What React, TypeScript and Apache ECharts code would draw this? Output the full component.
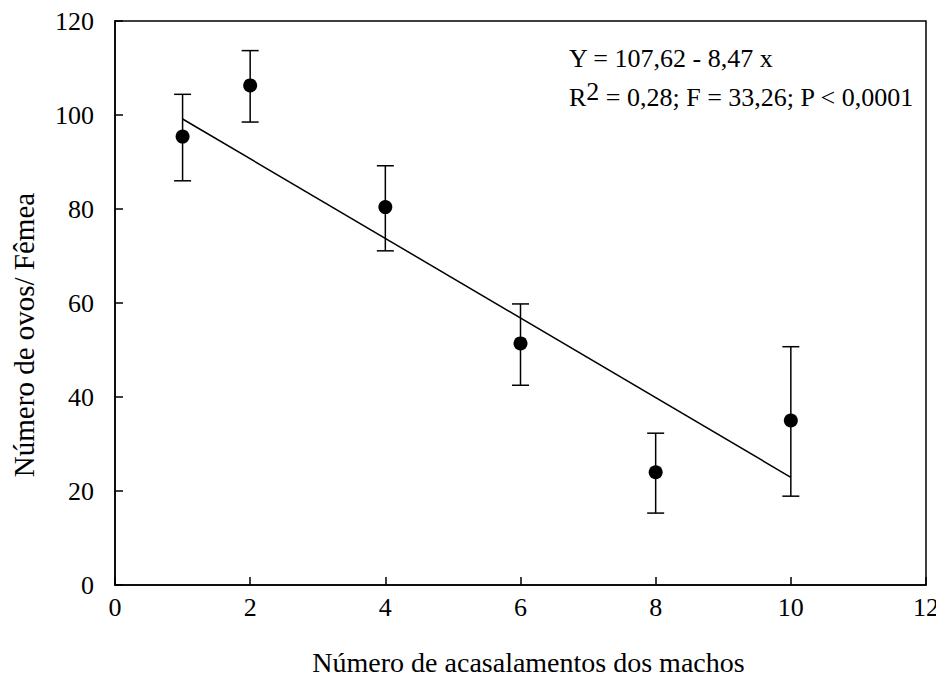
import React, { useEffect, useRef } from "react";
import * as echarts from "echarts";

const xValues = [1, 2, 4, 6, 8, 10];
const meanValues = [95.4, 106.3, 80.4, 51.4, 24.0, 35.0];
const upperValues = [104.4, 113.7, 89.2, 59.8, 32.3, 50.7];
const lowerValues = [86.0, 98.5, 71.1, 42.5, 15.3, 18.9];
const intercept = 107.62;
const slope = -8.47;
const fitRange = [1, 10];
const xTitle = "Número de acasalamentos dos machos";
const yTitle = "Número de ovos/ Fêmea";
const eqLine1 = "Y = 107,62 - 8,47 x";

const FONT = "'Liberation Serif', 'Times New Roman', serif";

export default function App() {
  const ref = useRef<HTMLDivElement>(null);
  useEffect(() => {
    if (!ref.current) return;
    const chart = echarts.init(ref.current, null, { renderer: "svg" });
    const points = xValues.map((x, i) => [x, meanValues[i]]);
    const bars = xValues.map((x, i) => [x, lowerValues[i], upperValues[i]]);
    const fit = fitRange.map((x) => [x, intercept + slope * x]);
    const tickStyle = { color: "#000", fontFamily: FONT, fontSize: 26 };
    const titleStyle = { color: "#000", fontFamily: FONT, fontSize: 28 };
    chart.setOption({
      animation: false,
      backgroundColor: "#fff",
      grid: {
        left: 115,
        top: 21,
        right: 18,
        bottom: 98,
        show: true,
        borderColor: "#000",
        borderWidth: 1.5,
      },
      xAxis: {
        type: "value",
        min: 0,
        max: 12,
        interval: 2,
        name: xTitle,
        nameLocation: "middle",
        nameGap: 63,
        nameTextStyle: { ...titleStyle, padding: [0, 0, 0, 16] },
        axisLine: { show: true, lineStyle: { color: "#000", width: 1.5 } },
        axisTick: { show: true, inside: true, length: 8, lineStyle: { color: "#000", width: 1.5 } },
        axisLabel: { ...tickStyle, margin: 9 },
        splitLine: { show: false },
      },
      yAxis: {
        type: "value",
        min: 0,
        max: 120,
        interval: 20,
        axisLine: { show: true, lineStyle: { color: "#000", width: 1.5 } },
        axisTick: { show: true, inside: true, length: 8, lineStyle: { color: "#000", width: 1.5 } },
        axisLabel: { ...tickStyle, margin: 21 },
        splitLine: { show: false },
      },
      series: [
        {
          type: "line",
          data: fit,
          symbol: "none",
          lineStyle: { color: "#000", width: 1.5 },
          z: 2,
        },
        {
          type: "custom",
          data: bars,
          z: 3,
          renderItem: (params: any, api: any) => {
            const x = api.value(0);
            const lo = api.coord([x, api.value(1)]);
            const hi = api.coord([x, api.value(2)]);
            const hw = 8.5;
            const st = { stroke: "#000", lineWidth: 1.5 };
            return {
              type: "group",
              children: [
                { type: "line", shape: { x1: lo[0], y1: lo[1], x2: hi[0], y2: hi[1] }, style: st },
                { type: "line", shape: { x1: hi[0] - hw, y1: hi[1], x2: hi[0] + hw, y2: hi[1] }, style: st },
                { type: "line", shape: { x1: lo[0] - hw, y1: lo[1], x2: lo[0] + hw, y2: lo[1] }, style: st },
              ],
            };
          },
        },
        {
          type: "scatter",
          data: points,
          symbol: "circle",
          symbolSize: 14,
          itemStyle: { color: "#000", opacity: 1 },
          z: 4,
        },
      ],
      graphic: [
        {
          type: "text",
          x: 24,
          y: 335,
          rotation: Math.PI / 2,
          style: {
            text: yTitle,
            fill: "#000",
            font: `29px ${FONT}`,
            align: "center",
            verticalAlign: "middle",
          },
        },
        {
          type: "text",
          left: 569,
          top: 45,
          style: { text: eqLine1, fill: "#000", font: `26px ${FONT}` },
        },
        {
          type: "text",
          left: 569,
          top: 78,
          style: {
            text: "R{sup|2} = 0,28; F = 33,26; P < 0,0001",
            fill: "#000",
            font: `26px ${FONT}`,
            rich: {
              sup: { fontSize: 26, fontFamily: FONT, fill: "#000", verticalAlign: "top", padding: [0, 0, 12, 0] },
            },
          },
        },
      ],
    });
    return () => chart.dispose();
  }, []);
  return <div ref={ref} style={{ width: 944, height: 683, margin: -8 }} />;
}
